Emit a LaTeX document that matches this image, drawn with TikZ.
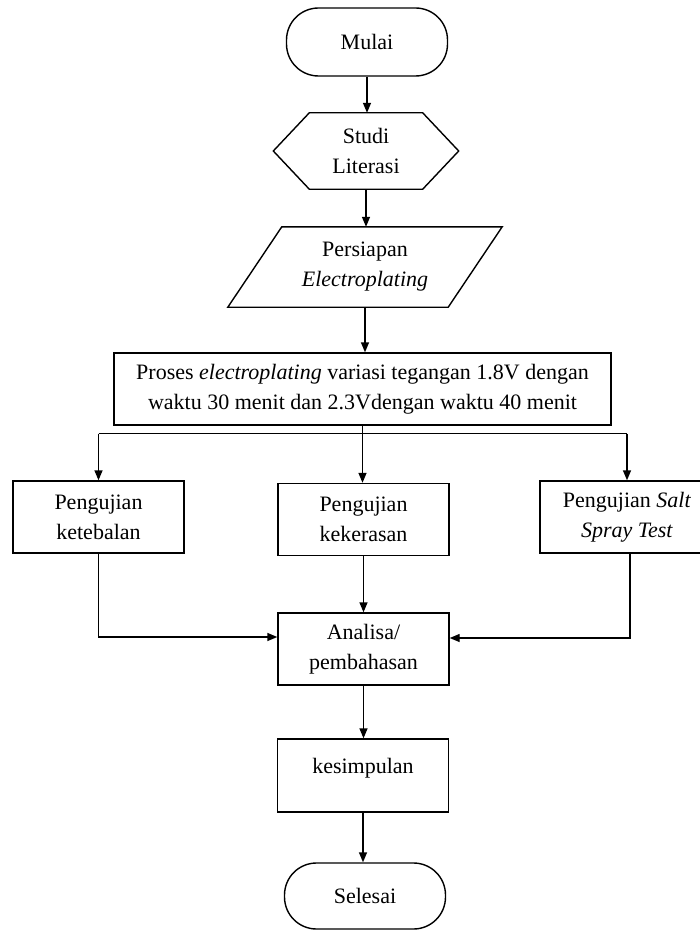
\documentclass[tikz,border=0pt]{standalone}
\usepackage{fontspec}
\setmainfont{Liberation Serif}
\usetikzlibrary{arrows.meta}

\begin{document}
\begin{tikzpicture}[x=1pt,y=-1pt,
  font=\fontsize{22}{30}\selectfont,
  line/.style={line width=1.4pt},
  box/.style={draw,line,inner sep=0pt,align=center,minimum width=171pt,minimum height=72pt},
  terminal/.style={box,rounded corners=32pt,minimum width=161pt,minimum height=68pt},
  arr/.style={line,-{Triangle[length=10pt,width=8pt]}}]
\useasboundingbox (0,0) rectangle (700,931);
\clip (0,0) rectangle (700,931);

% start and preparation
\node[terminal] (mulai) at (367,42) {Mulai};
\node[align=center,inner sep=0pt,minimum width=185pt,minimum height=76pt] (studi) at (366,151) {Studi\\Literasi};
\draw[line] (studi.west) -- ([xshift=36pt]studi.north west) -- ([xshift=-36pt]studi.north east)
  -- (studi.east) -- ([xshift=-36pt]studi.south east) -- ([xshift=36pt]studi.south west) -- cycle;
\node[align=center,inner sep=0pt,minimum width=220pt,minimum height=80pt] (persiapan) at (365,267) {Persiapan\\\textit{Electroplating}};
\draw[line] ([xshift=27pt]persiapan.north west) -- ([xshift=27pt]persiapan.north east)
  -- ([xshift=-27pt]persiapan.south east) -- ([xshift=-27pt]persiapan.south west) -- cycle;
\node[box,minimum width=497pt] (proses) at (362.5,389) {Proses \textit{electroplating} variasi tegangan 1.8V dengan\\waktu 30 menit dan 2.3Vdengan waktu 40 menit};

% tests
\node[box] (tebal) at (98.5,517) {Pengujian\\ketebalan};
\node[box] (keras) at (363.5,519.5) {Pengujian\\kekerasan};
\node[box,minimum width=174pt] (salt) at (627,517) {Pengujian \textit{Salt}\\\textit{Spray Test}};

% results
\node[box] (analisa) at (363.5,649) {Analisa/\\pembahasan};
\node[box,minimum height=73pt] (simpul) at (363,775.5) {kesimpulan\\[-10pt]\mbox{}};
\node[terminal,minimum height=66pt] (selesai) at (365,896) {Selesai};

\draw[arr] (mulai.south) -- (mulai.south |- studi.north);
\draw[arr] (studi.south) -- (studi.south |- persiapan.north);
\draw[arr] (persiapan.south) -- (persiapan.south |- proses.north);

\coordinate (fork) at ([yshift=-8pt]proses.south);
\draw[line] (tebal.north |- fork) -- (salt.north |- fork);
\draw[arr] (tebal.north |- fork) -- (tebal.north);
\draw[arr] (proses.south) -- (proses.south |- keras.north);
\draw[arr] (salt.north |- fork) -- (salt.north);

\draw[arr] (tebal.south) |- ([yshift=12pt]analisa.west);
\draw[arr] (keras.south) -- (keras.south |- analisa.north);
\draw[arr] ([xshift=3pt]salt.south) |- ([yshift=11pt]analisa.east);

\draw[arr] (analisa.south) -- (analisa.south |- simpul.north);
\draw[arr] (simpul.south) -- (simpul.south |- selesai.north);
\end{tikzpicture}
\end{document}
